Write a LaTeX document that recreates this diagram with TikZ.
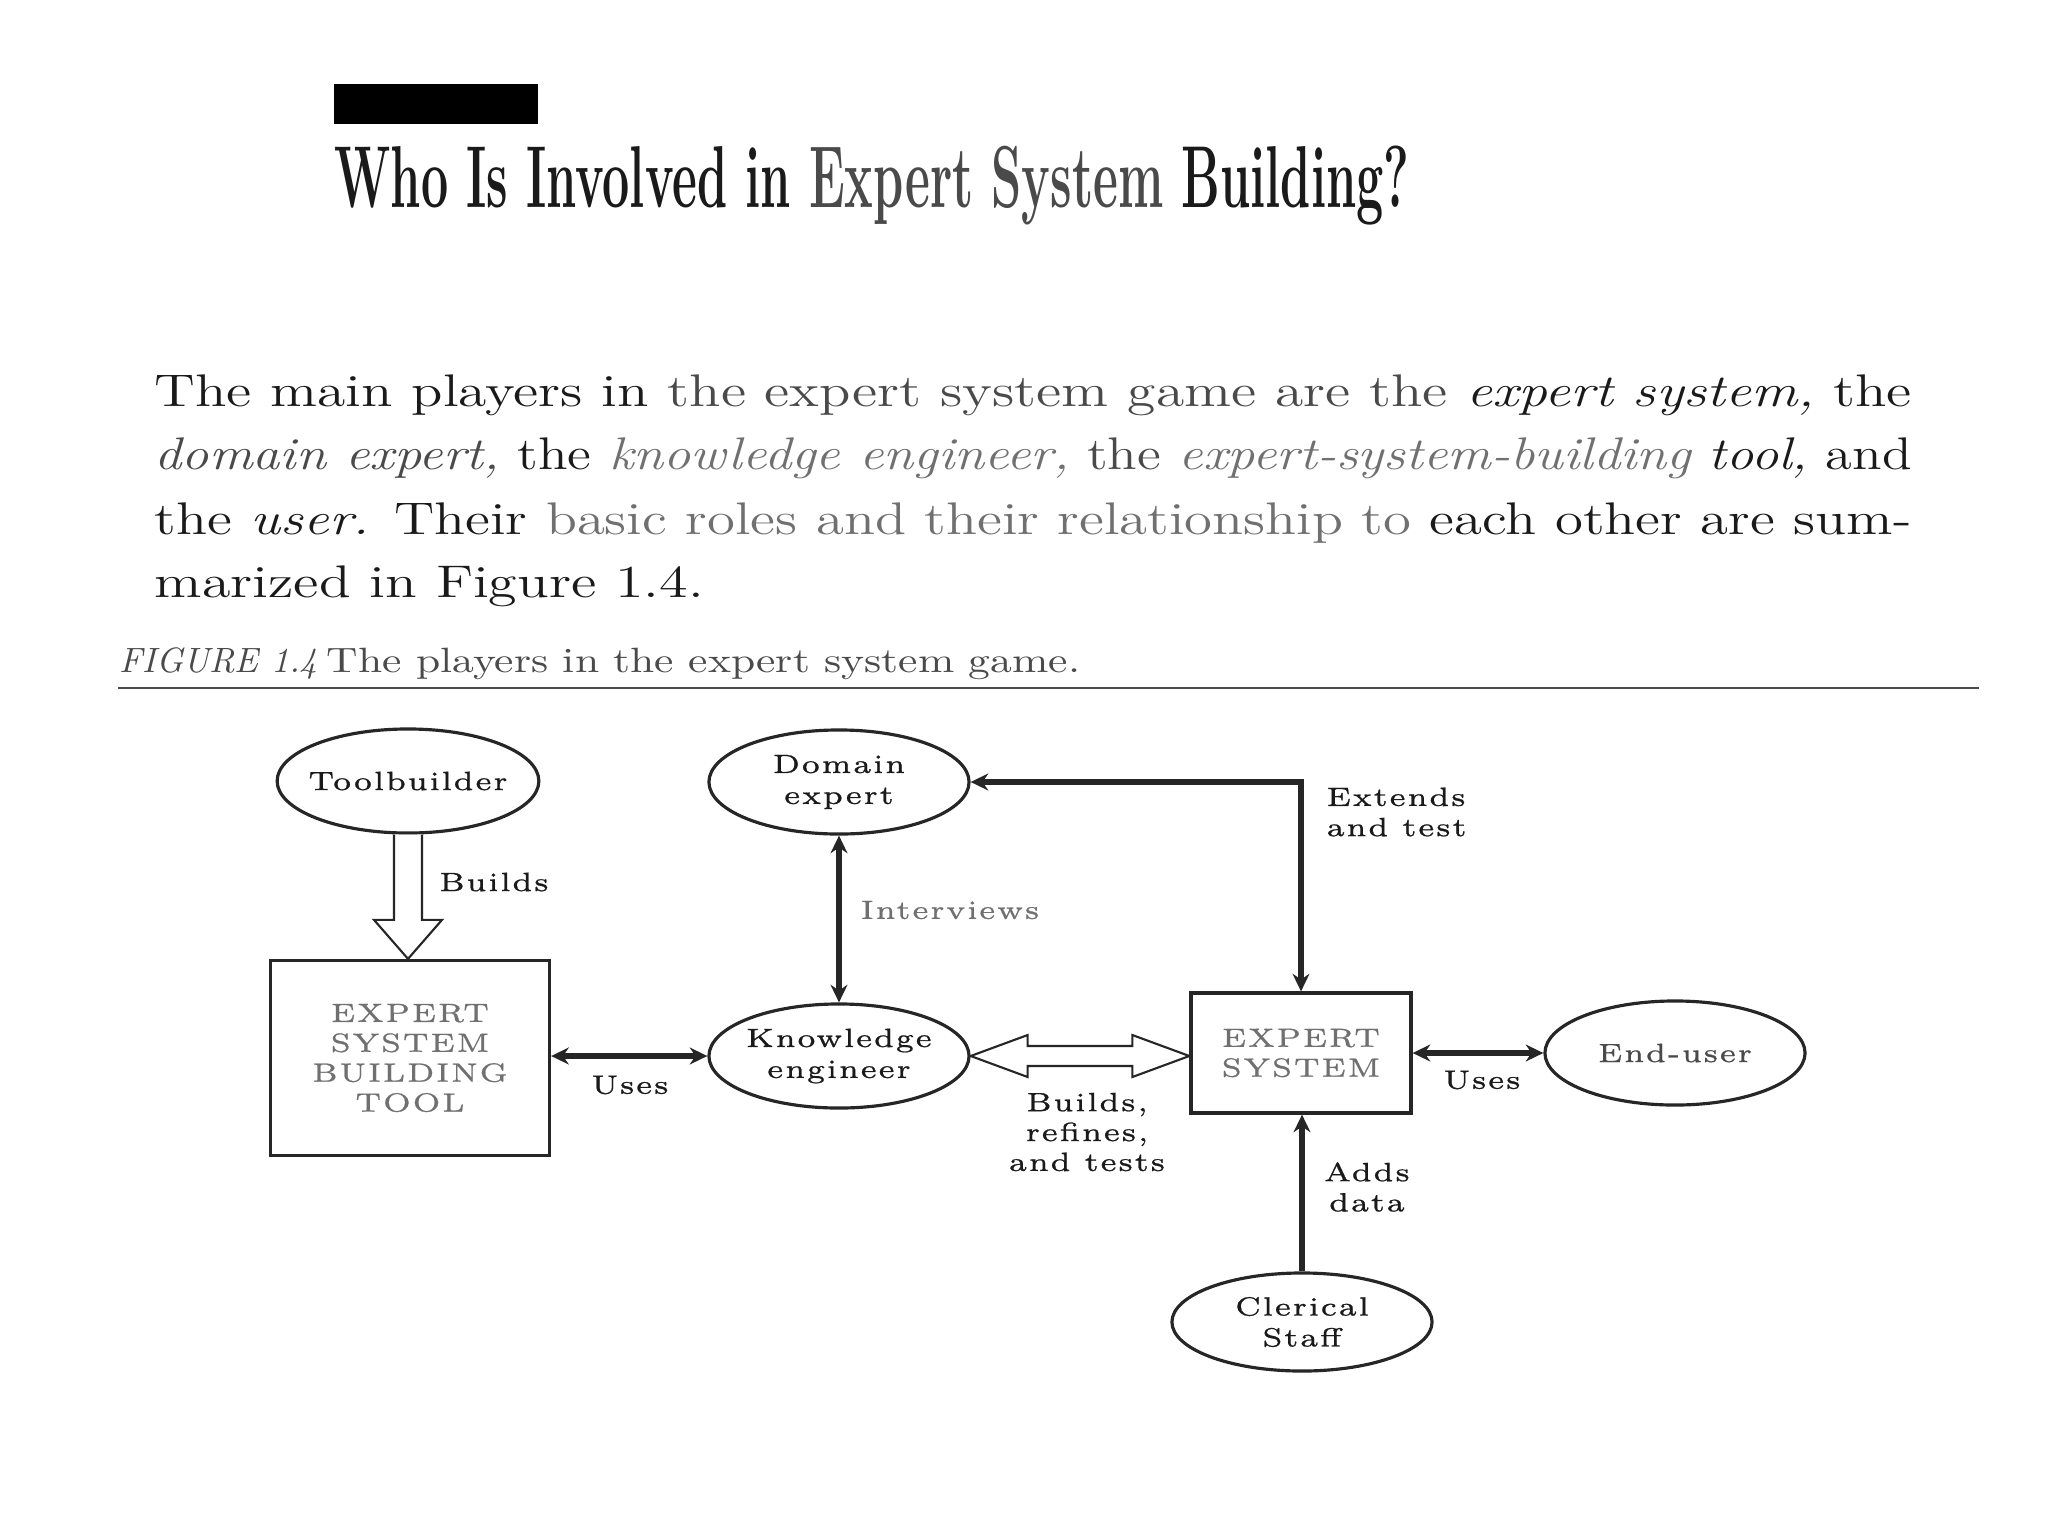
\documentclass[tikz,border=0pt]{standalone}
\usepackage{fontspec}
\setmainfont{Latin Modern Roman}
\newfontfamily\parafont{Latin Modern Roman}
\newfontfamily\diafont{Latin Modern Roman}[FakeStretch=1.2,LetterSpace=7,FakeBold=0.8]
\usetikzlibrary{shapes.geometric,arrows.meta,calc}
\definecolor{inkdark}{HTML}{1A1A1A}
\definecolor{inkmid}{HTML}{4A4A4A}
\definecolor{inklight}{HTML}{707070}
\definecolor{linegray}{HTML}{262626}
\begin{document}
\begin{tikzpicture}[x=0.01cm,y=-0.01cm,
  >={Stealth[length=5pt,width=4.8pt]},
  actor/.style={ellipse, draw=linegray, line width=0.9pt, minimum width=2.6cm, minimum height=1.04cm,
    inner xsep=-2pt, inner ysep=0pt, align=center, text=inkdark, font=\diafont\fontsize{7.5}{8.8}\selectfont},
  sysbox/.style={rectangle, draw=linegray, line width=0.9pt, inner sep=0pt, align=center,
    text=inklight, font=\diafont\fontsize{7.5}{8.5}\selectfont},
  link/.style={line width=1.6pt, draw=linegray},
  hollow/.style={line width=0.6pt, draw=linegray, fill=white, line join=miter},
  lbl/.style={inner sep=0pt, text=inkdark, font=\diafont\fontsize{7.5}{8.6}\selectfont},
  ptext/.style={anchor=base west, inner sep=0pt, text=inkdark}]
\useasboundingbox (0,0) rectangle (2048,1536);
\fill[white] (0,0) rectangle (2048,1536);

% heading
\fill[black] (334,84) rectangle (538,124);
\node[ptext] (title) at (334,207) {\resizebox{10.74cm}{\height}{\fontsize{25}{28}\selectfont\bfseries Who Is Involved in {\color{inkmid}Expert System} Building?}};

% paragraph
\node[ptext] (p1) at (154,406) {\resizebox{17.56cm}{\height}{\parafont\fontsize{13}{15}\selectfont The main players in {\color{inkmid}the expert system game are the} {\itshape expert system,} the}};
\node[ptext] (p2) at (154,469) {\resizebox{17.56cm}{\height}{\parafont\fontsize{13}{15}\selectfont {\itshape\color{inkmid}domain expert,} the {\itshape\color{inklight}knowledge engineer,} {\color{inkmid}the} {\itshape\color{inklight}expert-system-building} {\itshape tool,} and}};
\node[ptext] (p3) at (154,534) {\resizebox{17.56cm}{\height}{\parafont\fontsize{13}{15}\selectfont the {\itshape user.} Their {\color{inklight}basic roles and their relationship to} each other are sum-}};
\node[ptext] (p4) at (154,597) {\resizebox{5.49cm}{\height}{\parafont\fontsize{13}{15}\selectfont marized in Figure 1.4.}};

% caption and rule
\node[ptext, text=inkmid] (capA) at (119,672) {\resizebox{1.98cm}{\height}{\parafont\fontsize{10}{12}\selectfont\itshape FIGURE 1.4}};
\node[ptext, text=inkmid] (capB) at (326,672) {\resizebox{7.53cm}{\height}{\parafont\fontsize{10}{12}\selectfont The players in the expert system game.}};
\coordinate (ruleL) at (118,688);
\coordinate (ruleR) at (1979,688);
\draw[line width=0.6pt, draw=black!70] (ruleL) -- (ruleR);

% nodes
\node[actor] (tb) at (408,781) {Toolbuilder};
\node[actor] (de) at (839,782) {Domain\\expert};
\node[actor] (ke) at (839,1056) {Knowledge\\engineer};
\node[actor, text=inkmid] (eu) at (1675,1053) {End-user};
\node[actor, minimum height=0.98cm] (cs) at (1302,1322) {Clerical\\Staff};
\node[sysbox, minimum width=2.79cm, minimum height=1.95cm] (esbt) at (410,1058) {EXPERT\\SYSTEM\\BUILDING\\TOOL};
\node[sysbox, minimum width=2.2cm, minimum height=1.2cm] (es) at (1301,1053) {EXPERT\\SYSTEM};

% Builds (hollow arrow)
\coordinate (bT) at (tb.south);
\coordinate (bB) at (tb.south |- esbt.north);
\draw[hollow] ($(bT)+(-14,0)$) -- ($(bB)+(-14,-39)$) -- ($(bB)+(-34,-39)$) -- (bB)
  -- ($(bB)+(34,-39)$) -- ($(bB)+(14,-39)$) -- ($(bT)+(14,0)$);

% Builds, refines, and tests (hollow double arrow)
\coordinate (hL) at (ke.east);
\coordinate (hR) at (es.west |- ke.east);
\draw[hollow] (hL) -- ($(hL)+(57,-21)$) -- ($(hL)+(57,-10)$) -- ($(hR)+(-57,-10)$) -- ($(hR)+(-57,-21)$)
  -- (hR) -- ($(hR)+(-57,21)$) -- ($(hR)+(-57,10)$) -- ($(hL)+(57,10)$) -- ($(hL)+(57,21)$) -- cycle;

% thick connectors
\draw[link,<->] (ke.west -| esbt.east) -- (ke.west);
\draw[link,<->] (de.south) -- (ke.north);
\draw[link,<->] (de.east) -- (de.east -| es.north) -- (es.north);
\draw[link,<->] (es.east) -- (es.east -| eu.west);
\draw[link,->] (cs.north) -- (cs.north |- es.south);

% labels
\node[lbl] (lbuilds) at (494,882) {Builds};
\node[lbl] (luses1) at (630,1085) {Uses};
\node[lbl, text=inklight] (lint) at (950,910) {Interviews};
\node[lbl, anchor=west, align=left] (lext) at (1326,812) {Extends\\and test};
\node[lbl, align=center, font=\diafont\fontsize{7.5}{8.5}\selectfont] (lbrt) at (1087,1132) {Builds,\\refines,\\and tests};
\node[lbl] (luses2) at (1482,1080) {Uses};
\node[lbl, align=center] (ladds) at (1367,1187) {Adds\\data};
\end{tikzpicture}
\end{document}
